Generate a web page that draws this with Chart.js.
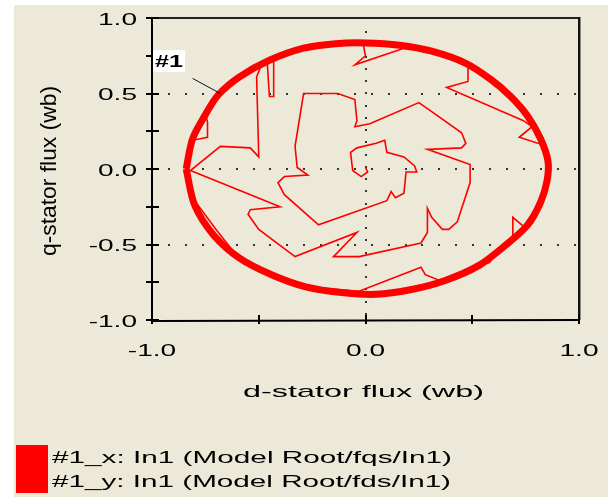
<!DOCTYPE html>
<html lang="en">
<head>
    <meta charset="UTF-8">
    <title>Stator flux</title>
    <script src="https://cdn.jsdelivr.net/npm/chart.js"></script>
    <style>
        body { margin: 0; background: #fff; }
        canvas { display: block; }
    </style>
</head>
<body>
    <canvas id="grafico" width="608" height="497"></canvas>

    <script>
        // start-up trajectory (thin line), d and q flux in wb
        const traceD = [0.00, 0.01, -0.02, -0.06, -0.07, -0.04, 0.05, 0.09, 0.10, 0.18, 0.23, 0.24, 0.19, 0.18, 0.14, 0.12, 0.10,
            -0.22, -0.38, -0.41, -0.38, -0.27, -0.32, -0.33, -0.29, -0.13, -0.05, -0.04, -0.05, 0.02, 0.25, 0.33, 0.45, 0.47,
            0.45, 0.29, 0.49, 0.49, 0.43, 0.39, 0.36, 0.31, 0.29, 0.29, 0.26, -0.03, -0.15, -0.04, -0.33, -0.50, -0.55, -0.54,
            -0.40, -0.82, -0.68, -0.54, -0.50, -0.51, -0.49, -0.46, -0.45, -0.43, -0.43, -0.29, -0.12, -0.01, 0.00, -0.05,
            0.18, 0.35, 0.48, 0.48, 0.38, 0.74, 0.78, 0.72, 0.83, 0.85, 0.84, 0.79, 0.74, 0.69, 0.69, 0.58, 0.35, 0.28, 0.26,
            -0.03, -0.29, -0.45, -0.60, -0.70, -0.80, -0.84, -0.81, -0.74, -0.74, -0.75];
        const traceQ = [0.01, -0.02, -0.05, -0.01, 0.11, 0.14, 0.17, 0.19, 0.11, 0.08, 0.02, -0.02, -0.02, -0.16, -0.19, -0.15, -0.21,
            -0.37, -0.17, -0.09, -0.05, -0.04, 0.01, 0.15, 0.50, 0.50, 0.46, 0.32, 0.28, 0.30, 0.44, 0.36, 0.24, 0.17,
            0.14, 0.13, 0.03, -0.09, -0.35, -0.40, -0.40, -0.32, -0.26, -0.42, -0.49, -0.58, -0.58, -0.42, -0.58, -0.40, -0.30, -0.27,
            -0.25, -0.01, 0.15, 0.14, 0.08, 0.61, 0.68, 0.70, 0.48, 0.48, 0.72, 0.80, 0.82, 0.82, 0.75, 0.69,
            0.80, 0.77, 0.68, 0.58, 0.54, 0.32, 0.28, 0.21, 0.16, 0.03, -0.14, -0.28, -0.38, -0.32, -0.44, -0.62, -0.74, -0.70, -0.65,
            -0.81, -0.78, -0.68, -0.58, -0.40, -0.21, 0.00, 0.19, 0.21, 0.31, 0.37];

        // steady-state flux circle (thick band)
        const ringD = [-0.84, -0.81, -0.75, -0.69, -0.59, -0.45, -0.29, -0.14, 0.00, 0.16, 0.31, 0.47, 0.59, 0.68, 0.76, 0.82,
            0.855, 0.85, 0.82, 0.76, 0.66, 0.53, 0.37, 0.21, 0.05, -0.10, -0.28, -0.44, -0.59, -0.71, -0.80, -0.84];
        const ringQ = [0.00, 0.20, 0.36, 0.49, 0.61, 0.72, 0.80, 0.83, 0.835, 0.82, 0.78, 0.70, 0.59, 0.48, 0.35, 0.20,
            0.05, -0.08, -0.22, -0.37, -0.50, -0.64, -0.74, -0.80, -0.83, -0.82, -0.78, -0.70, -0.59, -0.44, -0.24, 0.00];

        const xTickValues = [-1, -0.5, 0, 0.5, 1];
        const xTickLabels = ['-1.0', '', '0.0', '', '1.0'];
        const yTickValues = [-1, -0.75, -0.5, -0.25, 0, 0.25, 0.5, 0.75, 1];
        const yTickLabels = ['-1.0', '', '-0.5', '', '0.0', '', '0.5', '', '1.0'];
        const gridD = [0];
        const gridQ = [-0.5, 0, 0.5];
        const legendLabels = ['#1_x: In1 (Model Root/fqs/In1)', '#1_y: In1 (Model Root/fds/In1)'];
        const tagText = '#1';
        const tagLeader = [[-0.81, 0.60], [-0.68, 0.50]];

        const FONT = '17px "Liberation Sans", Arial, sans-serif';
        const BEGE = '#ECE9D8';

        function stretched(ctx, str, x, y, sx, align) {
            ctx.save();
            ctx.translate(x, y);
            ctx.scale(sx, 1);
            ctx.textAlign = align;
            ctx.textBaseline = 'middle';
            ctx.fillText(str, 0, 0);
            ctx.restore();
        }

        const desenho = {
            id: 'desenho',
            beforeDraw(chart) {
                const ctx = chart.ctx;
                const a = chart.chartArea;
                const sx = chart.scales.x, sy = chart.scales.y;
                ctx.save();
                ctx.fillStyle = '#fff';
                ctx.fillRect(0, 0, chart.width, chart.height);
                ctx.fillStyle = BEGE;
                ctx.fillRect(14, 5, chart.width - 14, chart.height - 5);

                // dotted grid
                ctx.fillStyle = '#333';
                gridQ.forEach(v => {
                    const py = Math.round(sy.getPixelForValue(v));
                    for (let px = a.left + 16; px < a.right - 2; px += 16.9) ctx.fillRect(Math.round(px), py - 1, 2, 2);
                });
                gridD.forEach(v => {
                    const px = Math.round(sx.getPixelForValue(v));
                    for (let py = a.top + 13; py < a.bottom - 2; py += 12.25) ctx.fillRect(px - 1, Math.round(py), 2, 2);
                });
                ctx.restore();
            },
            afterDatasetsDraw(chart) {
                const ctx = chart.ctx;
                const a = chart.chartArea;
                const sx = chart.scales.x, sy = chart.scales.y;
                ctx.save();

                // frame
                ctx.strokeStyle = '#222';
                ctx.lineWidth = 2;
                ctx.beginPath();
                ctx.moveTo(a.left, a.top); ctx.lineTo(a.right, a.top);
                ctx.stroke();
                ctx.strokeStyle = '#888';
                ctx.lineWidth = 1;
                ctx.beginPath();
                ctx.moveTo(a.right + 1.5, a.top - 1); ctx.lineTo(a.right + 1.5, a.bottom);
                ctx.stroke();
                ctx.strokeStyle = '#111';
                ctx.lineWidth = 2;
                ctx.beginPath();
                ctx.moveTo(a.right, a.top - 1); ctx.lineTo(a.right, a.bottom);
                ctx.stroke();

                // axes
                ctx.strokeStyle = '#000';
                ctx.lineWidth = 2;
                ctx.beginPath();
                ctx.moveTo(a.left, a.top - 1); ctx.lineTo(a.left, a.bottom + 1);
                ctx.lineTo(a.right + 1, a.bottom);
                ctx.stroke();

                ctx.font = FONT;
                ctx.fillStyle = '#000';
                const tickSx = 1.65;

                ctx.beginPath();
                yTickValues.forEach(v => {
                    const py = Math.round(sy.getPixelForValue(v));
                    ctx.moveTo(a.left - 6, py); ctx.lineTo(a.left + 7, py);
                });
                xTickValues.forEach(v => {
                    const px = Math.round(sx.getPixelForValue(v));
                    ctx.moveTo(px, a.bottom - 5); ctx.lineTo(px, a.bottom + 4);
                });
                ctx.stroke();

                yTickValues.forEach((v, i) => {
                    if (!yTickLabels[i]) return;
                    stretched(ctx, yTickLabels[i], a.left - 15, sy.getPixelForValue(v) + 2, tickSx, 'right');
                });
                xTickValues.forEach((v, i) => {
                    if (!xTickLabels[i]) return;
                    stretched(ctx, xTickLabels[i], sx.getPixelForValue(v), a.bottom + 31, tickSx, 'center');
                });

                // axis titles
                const xt = 'd-stator flux (wb)';
                stretched(ctx, xt, (a.left + a.right) / 2 - 2, 392, 241 / ctx.measureText(xt).width, 'center');
                const yt = 'q-stator flux (wb)';
                ctx.save();
                ctx.translate(50, 171);
                ctx.rotate(-Math.PI / 2);
                ctx.scale(170 / ctx.measureText(yt).width, 1.3);
                ctx.textAlign = 'center';
                ctx.textBaseline = 'middle';
                ctx.fillText(yt, 0, 0);
                ctx.restore();

                // legend
                ctx.fillStyle = '#ff0000';
                ctx.fillRect(16, 445, 32, 48);
                ctx.fillStyle = '#000';
                stretched(ctx, legendLabels[0], 52, 458, 400 / ctx.measureText(legendLabels[0]).width, 'left');
                stretched(ctx, legendLabels[1], 52, 482, 399 / ctx.measureText(legendLabels[1]).width, 'left');

                // curve tag
                ctx.strokeStyle = '#111';
                ctx.lineWidth = 1;
                ctx.beginPath();
                ctx.moveTo(sx.getPixelForValue(tagLeader[0][0]), sy.getPixelForValue(tagLeader[0][1]));
                ctx.lineTo(sx.getPixelForValue(tagLeader[1][0]), sy.getPixelForValue(tagLeader[1][1]));
                ctx.stroke();
                ctx.fillStyle = '#fff';
                ctx.fillRect(153, 50, 32, 22);
                ctx.fillStyle = '#000';
                ctx.font = 'bold ' + FONT;
                stretched(ctx, tagText, 155, 62, 28 / ctx.measureText(tagText).width, 'left');

                ctx.restore();
            }
        };

        const ctx = document.getElementById('grafico');

        let grafico = new Chart(ctx, {
            type: 'scatter',
            data: {
                datasets: [{
                    label: '#1 start-up',
                    data: traceD.map((d, i) => ({ x: d, y: traceQ[i] })),
                    showLine: true,
                    borderColor: '#ff0000',
                    borderWidth: 1.6,
                    pointRadius: 0,
                    tension: 0
                }, {
                    label: '#1 steady state',
                    data: ringD.map((d, i) => ({ x: d, y: ringQ[i] })),
                    showLine: true,
                    borderColor: '#ff0000',
                    borderWidth: 7,
                    borderJoinStyle: 'round',
                    pointRadius: 0,
                    tension: 0.3
                }]
            },
            options: {
                responsive: false,
                animation: false,
                devicePixelRatio: 1,
                layout: { padding: { left: 152, top: 18, right: 29, bottom: 177 } },
                plugins: { legend: { display: false }, tooltip: { enabled: false } },
                scales: {
                    x: { type: 'linear', min: -1, max: 1, display: false },
                    y: { type: 'linear', min: -1, max: 1, display: false }
                }
            },
            plugins: [desenho]
        });
    </script>
</body>
</html>
